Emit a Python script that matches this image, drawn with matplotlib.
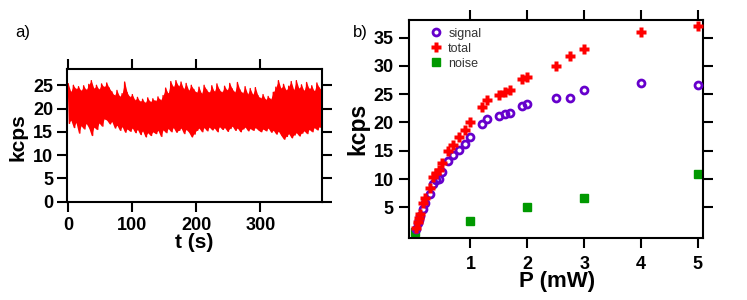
import numpy as np
import matplotlib
matplotlib.use("Agg")
import matplotlib.pyplot as plt

# ---- panel a: time trace envelope (read every 4 s) ----
t_s = list(range(0, 400, 4))
trace_hi = [25.3, 23.6, 25.0, 24.2, 24.7, 23.8, 24.9, 24.0, 25.2, 26.0,
            24.3, 25.0, 24.1, 25.3, 24.6, 25.5, 24.4, 23.6, 22.8, 23.9,
            22.6, 23.2, 25.7, 23.4, 22.5, 23.0, 21.8, 22.4, 21.5, 22.0,
            21.2, 22.3, 21.4, 22.1, 21.6, 22.5, 21.8, 22.8, 24.4, 23.2,
            25.8, 24.6, 26.0, 24.8, 25.7, 24.2, 25.4, 23.9, 25.0, 24.1,
            23.4, 24.6, 23.2, 25.0, 24.0, 23.4, 24.9, 23.6, 25.3, 24.0,
            23.5, 24.8, 23.9, 25.4, 24.2, 23.5, 25.6, 24.0, 23.3, 24.7,
            23.1, 24.3, 23.0, 24.5, 22.8, 22.2, 23.0, 21.9, 22.6, 22.0,
            23.5, 24.6, 26.0, 24.3, 25.2, 23.9, 24.8, 25.8, 24.0, 26.0,
            24.3, 25.1, 23.8, 25.6, 24.2, 24.9, 23.7, 25.5, 24.4, 24.0]
trace_lo = [16.8, 17.5, 15.9, 17.0, 14.7, 16.3, 15.6, 16.8, 15.8, 14.2,
            16.0, 15.5, 16.9, 16.2, 17.8, 17.5, 16.7, 17.2, 15.8, 16.4,
            15.3, 16.1, 14.9, 15.6, 15.1, 15.8, 14.8, 15.5, 14.4, 15.2,
            13.9, 14.8, 14.2, 15.0, 14.6, 15.3, 14.0, 15.4, 14.8, 15.7,
            15.0, 15.9, 14.9, 15.3, 15.8, 14.6, 15.5, 14.9, 13.9, 14.5,
            15.3, 15.8, 15.0, 15.9, 15.2, 16.0, 15.4, 15.8, 15.0, 16.1,
            15.5, 15.9, 15.1, 15.7, 16.2, 15.3, 15.8, 15.0, 15.6, 16.0,
            15.2, 15.7, 15.3, 15.9, 15.4, 15.0, 15.6, 15.2, 15.8, 14.9,
            15.3, 14.5, 15.1, 14.2, 13.4, 14.0, 14.6, 13.7, 14.3, 14.8,
            14.1, 14.7, 15.2, 14.6, 15.5, 15.0, 15.9, 15.4, 16.1, 15.6]

# ---- panel b: power dependence ----
power_mw = [0.05, 0.08, 0.10, 0.12, 0.16, 0.20, 0.29, 0.35, 0.40, 0.45,
            0.50, 0.60, 0.70, 0.80, 0.90, 1.00, 1.20, 1.30, 1.50, 1.60,
            1.70, 1.90, 2.00, 2.50, 2.75, 3.00, 4.00, 5.00]
signal_kcps = [1.2, 2.2, 2.8, 3.4, 4.8, 5.8, 7.4, 9.1, 9.8, 10.1,
               11.2, 13.2, 14.2, 15.2, 16.2, 17.4, 19.8, 20.7, 21.2, 21.5,
               21.7, 23.0, 23.3, 24.3, 24.4, 25.8, 26.9, 26.6]
total_kcps = [1.4, 2.4, 3.2, 3.9, 5.7, 6.7, 8.5, 10.4, 11.0, 11.6,
              12.8, 15.0, 16.1, 17.4, 18.6, 20.0, 22.8, 23.9, 24.9, 25.4,
              25.8, 27.6, 28.0, 30.0, 31.8, 33.0, 36.0, 37.1]
noise_power_mw = [0.03, 1.0, 2.0, 3.0, 5.0]
noise_kcps = [0.7, 2.6, 5.1, 6.7, 10.9]

plt.rcParams['font.family'] = ['Liberation Sans', 'DejaVu Sans']

W, H = 747, 300
fig = plt.figure(figsize=(W / 100, H / 100), dpi=100)


def px_axes(l, r, t, b):
    return fig.add_axes([l / W, 1 - b / H, (r - l) / W, (b - t) / H])


def style(ax, xpad, ypad):
    for s in ax.spines.values():
        s.set_linewidth(1.5)
    ax.tick_params(direction='out', length=7, width=1.5, top=True, right=True,
                   labelsize=13)
    ax.tick_params(axis='x', pad=xpad)
    ax.tick_params(axis='y', pad=ypad)
    for lab in ax.get_xticklabels() + ax.get_yticklabels():
        lab.set_fontweight('bold')


# panel a: fluctuating trace drawn as a line alternating between the
# read upper and lower excursions
t_arr = np.asarray(t_s, dtype=float)
zig_t = np.column_stack([t_arr, t_arr + 2.0]).ravel()
zig_v = np.column_stack([trace_hi, trace_lo]).ravel()

axa = px_axes(67, 322, 69, 202)
axa.fill_between(t_s, trace_lo, trace_hi, color='#ff0000', lw=0)
axa.plot(zig_t, zig_v, color='#ff0000', lw=1.0)
axa.set_xlim(-2, 396)
axa.set_ylim(-0.1, 28.5)
axa.set_xticks([0, 100, 200, 300])
axa.set_yticks([0, 5, 10, 15, 20, 25])
style(axa, 4, 3)

# panel b
axb = px_axes(409, 703, 20, 238)
axb.plot(noise_power_mw, noise_kcps, ls='none', marker='s', ms=5.5,
         color='#009900', mec='#009900', label='noise', zorder=2)
axb.plot(power_mw, signal_kcps, ls='none', marker='o', ms=5,
         mfc='none', mec='#6600cc', mew=2.0, label='signal', zorder=3)
axb.plot(power_mw, total_kcps, ls='none', marker='P', ms=7.5,
         color='#ff0000', mec='none', label='total', zorder=4)
axb.set_xlim(-0.08, 5.09)
axb.set_ylim(-0.4, 38.1)
axb.set_xticks([1, 2, 3, 4, 5])
axb.set_yticks([5, 10, 15, 20, 25, 30, 35])
style(axb, 6, 4)

h, l = axb.get_legend_handles_labels()
order = [1, 2, 0]
leg = axb.legend([h[i] for i in order], [l[i] for i in order],
                 loc='upper left', bbox_to_anchor=(0.04, 1.0),
                 frameon=False, fontsize=9, handletextpad=0.4,
                 labelspacing=0.25, handlelength=1.2, borderaxespad=0.2)
for txt in leg.get_texts():
    txt.set_color('#333333')

# labels
def ftext(x, y, s, **kw):
    fig.text(x / W, 1 - y / H, s, ha='center', va='center', **kw)

ftext(23, 32, 'a)', fontsize=12)
ftext(360, 32, 'b)', fontsize=12)
ftext(18, 137, 'kcps', fontsize=15, fontweight='bold', rotation=90)
ftext(194, 243, 't (s)', fontsize=15, fontweight='bold')
ftext(358, 129, 'kcps', fontsize=16.5, fontweight='bold', rotation=90)
ftext(557, 282, 'P (mW)', fontsize=16, fontweight='bold')

fig.savefig('out.png', dpi=100)
